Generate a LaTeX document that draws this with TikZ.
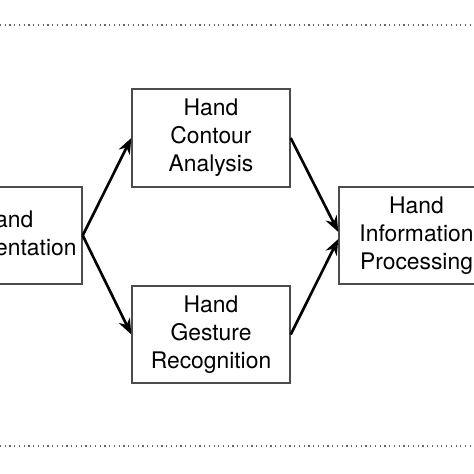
\documentclass[tikz,border=0pt]{standalone}
\usepackage{fontspec}
\setmainfont{TeX Gyre Heros}
\usetikzlibrary{arrows.meta}
\begin{document}
\begin{tikzpicture}[
        stage/.style={draw=black!70, line width=0.8pt, align=center, inner sep=0pt,
            font=\fontsize{13}{16}\selectfont},
        flow/.style={-{Stealth[length=9pt, width=7pt]}, line width=1.5pt},
        rule/.style={dotted, draw=black!60, line width=0.7pt}
    ]
                \useasboundingbox (0, 0) rectangle (9.48, 9.48);
                \clip (0, 0) rectangle (9.48, 9.48);

                \draw[rule] (0, 8.98) -- (9.48, 8.98);
                \draw[rule] (0, 0.56) -- (9.48, 0.56);

                \node[stage, minimum width=3.04cm, minimum height=1.94cm] (seg) at (0.12, 4.77) {Hand\\Segmentation};
                \node[stage, minimum width=3.16cm, minimum height=1.96cm] (contour) at (4.22, 6.72) {Hand\\Contour\\Analysis};
                \node[stage, minimum width=3.16cm, minimum height=1.94cm] (gesture) at (4.22, 2.79) {Hand\\Gesture\\Recognition};
                \node[stage, minimum width=3.10cm, minimum height=1.94cm] (info) at (8.33, 4.77) {Hand\\Information\\Processing};

                \draw[flow] (seg.east) -- (contour.west);
                \draw[flow] (seg.east) -- (gesture.west);
                \draw[flow] (contour.east) -- ([yshift=2pt]info.west);
                \draw[flow] (gesture.east) -- ([yshift=-2pt]info.west);
            \end{tikzpicture}
\end{document}
